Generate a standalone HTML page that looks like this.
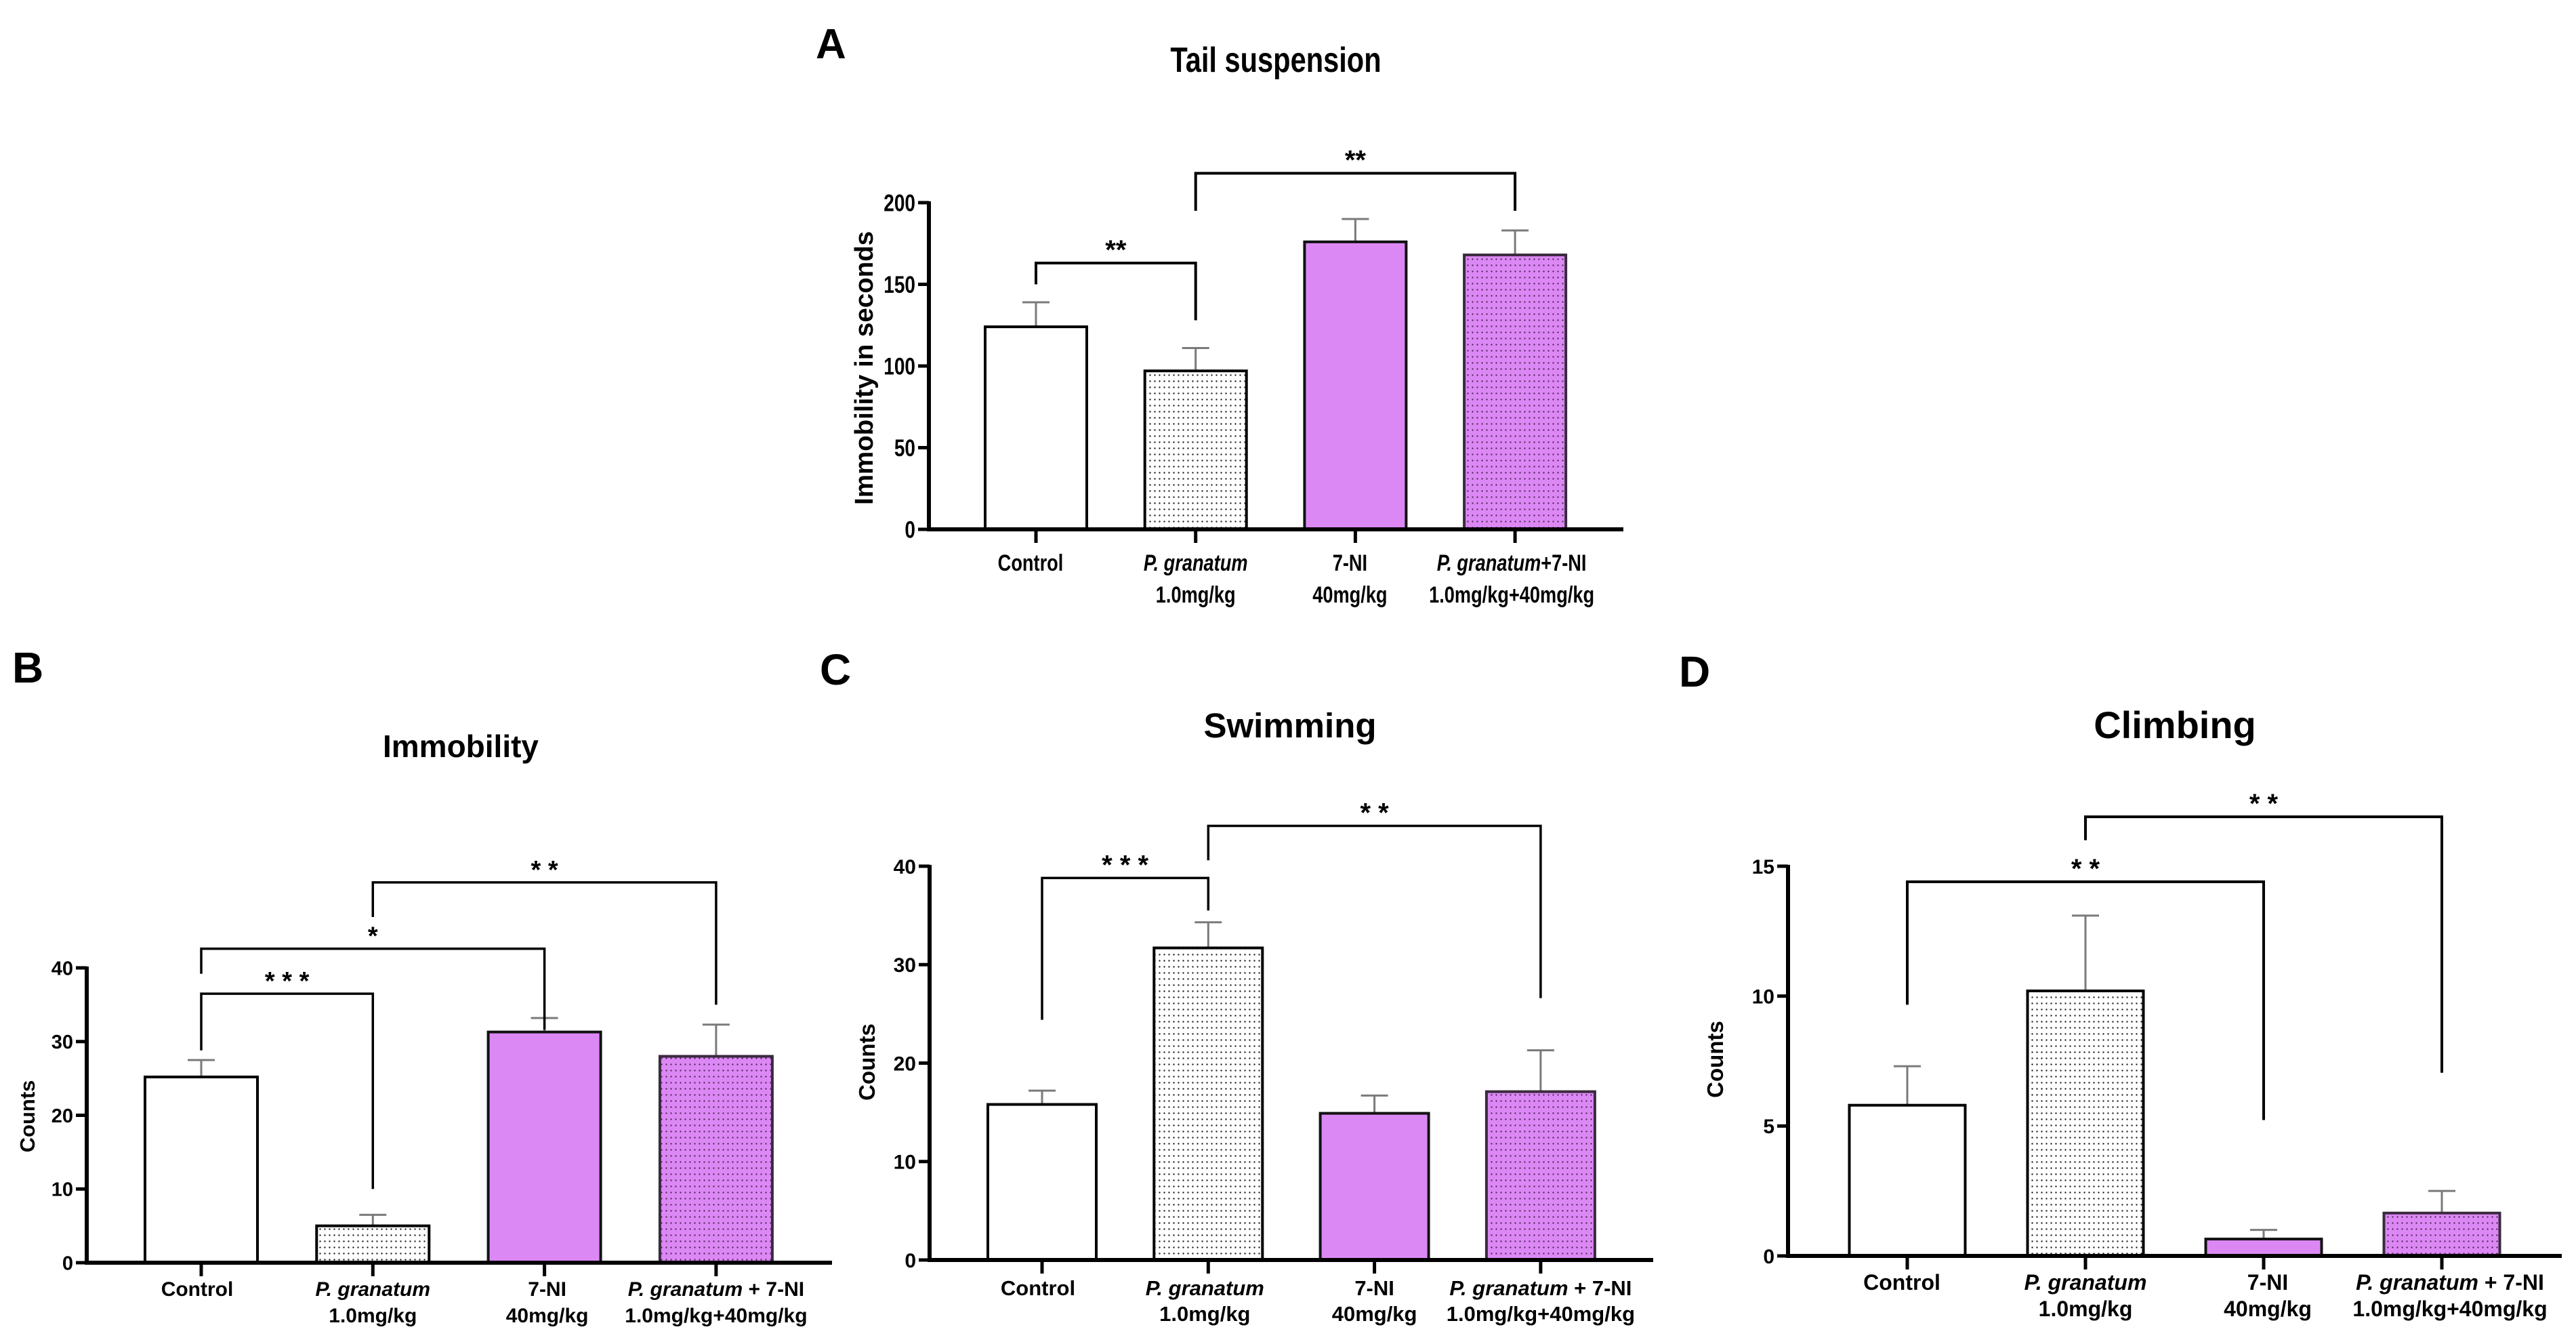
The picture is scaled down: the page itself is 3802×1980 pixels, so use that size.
<!DOCTYPE html>
<html><head><meta charset="utf-8"><style>
html,body{margin:0;padding:0;background:#fff;overflow:hidden;}
svg{display:block;}
text{font-family:"Liberation Sans",Arial,sans-serif;font-weight:bold;fill:#000;}
</style></head><body>
<svg id="fig" width="3802" height="1980" viewBox="0 0 3802 1980" xmlns="http://www.w3.org/2000/svg">
<defs>
<pattern id="dotsW" width="7" height="9" patternUnits="userSpaceOnUse"><rect width="7" height="9" fill="#fff"/><circle cx="3.5" cy="4.5" r="1.2" fill="#222"/></pattern>
<pattern id="dotsP" width="7" height="9" patternUnits="userSpaceOnUse"><rect width="7" height="9" fill="#dc88f4"/><circle cx="3.5" cy="4.5" r="1.2" fill="#5a2a66"/></pattern>
</defs>
</svg>
<script>
// ---- data ----
const groups = ["Control","P. granatum","7-NI","P. granatum+7-NI"];
const aMeans = [124, 97, 176, 168];
const aErrs  = [15, 14, 14, 15];
const aTicks = [0, 50, 100, 150, 200];
const aBrFrom = [0, 1]; const aBrTo = [1, 3];
const aBrTop = [163, 218]; const aBrLegL = [150, 195]; const aBrLegR = [128, 195];
const aBrLabel = ["**", "**"];

const bMeans = [25.2, 5, 31.3, 28];
const bErrs  = [2.3, 1.5, 1.9, 4.3];
const bTicks = [0, 10, 20, 30, 40];
const bBrFrom = [0, 0, 1]; const bBrTo = [1, 2, 3];
const bBrTop = [36.5, 42.6, 51.6]; const bBrLegL = [28.8, 39.2, 46.9]; const bBrLegR = [10, 31.6, 35];
const bBrLabel = ["* * *", "*", "* *"];

const cMeans = [15.8, 31.7, 14.9, 17.1];
const cErrs  = [1.4, 2.6, 1.8, 4.2];
const cTicks = [0, 10, 20, 30, 40];
const cBrFrom = [0, 1]; const cBrTo = [1, 3];
const cBrTop = [38.8, 44.1]; const cBrLegL = [24.4, 40.6]; const cBrLegR = [35.5, 26.6];
const cBrLabel = ["* * *", "* *"];

const dMeans = [5.8, 10.2, 0.65, 1.65];
const dErrs  = [1.5, 2.9, 0.35, 0.85];
const dTicks = [0, 5, 10, 15];
const dBrFrom = [0, 1]; const dBrTo = [2, 3];
const dBrTop = [14.4, 16.9]; const dBrLegL = [9.67, 16.0]; const dBrLegR = [5.23, 7.05];
const dBrLabel = ["* *", "* *"];

const NS = "http://www.w3.org/2000/svg";
const svg = document.getElementById("fig");
function el(tag, attrs, parent){
  const e = document.createElementNS(NS, tag);
  for (const k in attrs) e.setAttribute(k, attrs[k]);
  (parent||svg).appendChild(e);
  return e;
}
function txt(parent, x, y, s, size, anchor, sx){
  const t = el("text", {x:0, y:0, "font-size":size, "text-anchor":anchor||"middle",
    transform:`translate(${x},${y}) scale(${sx||1},1)`}, parent);
  t.textContent = s;
  return t;
}

function chart(p, means, errs, ticks, brFrom, brTo, brTop, brLegL, brLegR, brLabel){
  const g = el("g", {});
  
  
  const max = ticks[ticks.length-1];
  const y = v => p.y0 - v / max * (p.y0 - p.yTop);
  const cx = i => p.first + i * p.step;
  const sx = p.sx;
  const L = txt(g, p.letter[1], p.letter[2], p.letter[0], p.letterSize, "start", 1);
  
  
  const T = txt(g, p.titleX, p.titleY, p.title, p.titleSize, "middle", p.titleSx || 1);
  
  
  means.forEach((m, i) => {
    const fills = ["#fff", "url(#dotsW)", "#dc88f4", "url(#dotsP)"];
    const strokes = ["#000", "#000", "#111", "#3a2a3e"];
    const top = y(m);
    const eb = el("g", {}, g);
    
    
    el("line", {x1:cx(i), x2:cx(i), y1:top, y2:y(m+errs[i]), stroke:"#7a7a7a", "stroke-width":3}, eb);
    el("line", {x1:cx(i)-20, x2:cx(i)+20, y1:y(m+errs[i]), y2:y(m+errs[i]), stroke:"#7a7a7a", "stroke-width":3}, eb);
    const r = el("rect", {x:cx(i)-p.barW/2, y:top, width:p.barW, height:p.y0-top, fill:fills[i], stroke:strokes[i], "stroke-width":p.barStroke}, g);
    
    
  });
  const ya = el("line", {x1:p.x0, x2:p.x0, y1:p.yTop-2, y2:p.y0+p.axisW/2, stroke:"#000", "stroke-width":p.axisW}, g);
  
  
  const xa = el("line", {x1:p.x0-p.axisW/2, x2:p.xEnd, y1:p.y0, y2:p.y0, stroke:"#000", "stroke-width":p.axisW}, g);
  
  
  ticks.forEach(t => {
    el("line", {x1:p.x0-16, x2:p.x0, y1:y(t), y2:y(t), stroke:"#000", "stroke-width":p.axisW-1}, g);
    const tl = txt(g, p.x0-20, y(t)+p.tickSize*0.36, String(t), p.tickSize, "end", sx);
    
    
  });
  const yt = el("text", {x:0, y:0, "font-size":p.ySize, "text-anchor":"middle",
    transform:`translate(${p.yTitleX},${p.yTitleY}) rotate(-90)`}, g);
  if (p.yLen) { yt.setAttribute("textLength", p.yLen); yt.setAttribute("lengthAdjust","spacingAndGlyphs"); }
  yt.textContent = p.yTitle;
  
  
  groups.forEach((gname, i) => {
    el("line", {x1:cx(i), x2:cx(i), y1:p.y0, y2:p.y0+p.tickDown, stroke:"#000", "stroke-width":p.axisW-1}, g);
    const l1 = el("text", {x:0, y:0, "font-size":p.xSize, "text-anchor":"middle",
      transform:`translate(${cx(i)+p.xOff[i]},${p.xl1}) scale(${sx},1)`}, g);
    
    
    if (i === 0) l1.textContent = "Control";
    else if (i === 2) l1.textContent = "7-NI";
    else if (i === 1) { const ts = el("tspan", {"font-style":"italic"}, l1); ts.textContent = "P. granatum"; }
    else {
      const ts = el("tspan", {"font-style":"italic"}, l1); ts.textContent = "P. granatum";
      const ts2 = el("tspan", {}, l1); ts2.textContent = p.comboJoin + "7-NI";
    }
    const line2 = ["", "1.0mg/kg", "40mg/kg", "1.0mg/kg+40mg/kg"][i];
    if (line2) txt(g, cx(i)+p.xOff[i], p.xl2, line2, p.xSize, "middle", sx);
  });
  brFrom.forEach((f, k) => {
    const bg = el("g", {}, g);
    
    
    const x1 = cx(f), x2 = cx(brTo[k]);
    el("polyline", {points:`${x1},${y(brLegL[k])} ${x1},${y(brTop[k])} ${x2},${y(brTop[k])} ${x2},${y(brLegR[k])}`,
      fill:"none", stroke:"#000", "stroke-width":p.brW}, bg);
    txt(bg, (x1+x2)/2, y(brTop[k]) + p.starOff, brLabel[k], p.starSize, "middle", 1);
  });
}

chart({name:"panel-a-tail-suspension", letter:["A",1204,86], letterSize:62, title:"Tail suspension", titleX:1883, titleY:106, titleSize:52, titleSx:0.8,
  x0:1371, y0:781, yTop:299, xEnd:2396, first:1529, step:235.7, barW:150, barStroke:4, axisW:6, sx:0.8, tickDown:20,
  tickSize:35, ySize:38, yTitle:"Immobility in seconds", yTitleX:1288, yTitleY:543, yLen:404,
  xSize:34, xl1:842, xl2:889, xOff:[-8,0,-8,-5], comboJoin:"+", brW:4, starSize:40, starOff:-6},
  aMeans, aErrs, aTicks, aBrFrom, aBrTo, aBrTop, aBrLegL, aBrLegR, aBrLabel);

chart({name:"panel-b-immobility", letter:["B",18,1007], letterSize:64, title:"Immobility", titleX:680, titleY:1117, titleSize:46,
  x0:128, y0:1863, yTop:1428, xEnd:1228, first:297, step:253.3, barW:166, barStroke:4, axisW:6, sx:1, tickDown:20,
  tickSize:29, ySize:31, yTitle:"Counts", yTitleX:51, yTitleY:1647,
  xSize:30, xl1:1912, xl2:1951, xOff:[-6,0,4,0], comboJoin:" + ", brW:3.5, starSize:38, starOff:-6},
  bMeans, bErrs, bTicks, bBrFrom, bBrTo, bBrTop, bBrLegL, bBrLegR, bBrLabel);

chart({name:"panel-c-swimming", letter:["C",1210,1010], letterSize:64, title:"Swimming", titleX:1904, titleY:1088, titleSize:51,
  x0:1372, y0:1859, yTop:1278, xEnd:2440, first:1538, step:245.3, barW:160, barStroke:4, axisW:6, sx:1, tickDown:20,
  tickSize:30, ySize:33, yTitle:"Counts", yTitleX:1291, yTitleY:1567,
  xSize:31, xl1:1911, xl2:1949, xOff:[-6,-5,0,0], comboJoin:" + ", brW:3.5, starSize:40, starOff:-6},
  cMeans, cErrs, cTicks, cBrFrom, cBrTo, cBrTop, cBrLegL, cBrLegR, cBrLabel);

chart({name:"panel-d-climbing", letter:["D",2478,1013], letterSize:64, title:"Climbing", titleX:3210, titleY:1089, titleSize:56,
  x0:2639, y0:1853, yTop:1278, xEnd:3781, first:2815, step:263, barW:171, barStroke:4, axisW:6, sx:1, tickDown:20,
  tickSize:30, ySize:33, yTitle:"Counts", yTitleX:2543, yTitleY:1563,
  xSize:32, xl1:1903, xl2:1942, xOff:[-8,0,6,12], comboJoin:" + ", brW:4, starSize:40, starOff:-6},
  dMeans, dErrs, dTicks, dBrFrom, dBrTo, dBrTop, dBrLegL, dBrLegR, dBrLabel);
</script>
</body></html>
